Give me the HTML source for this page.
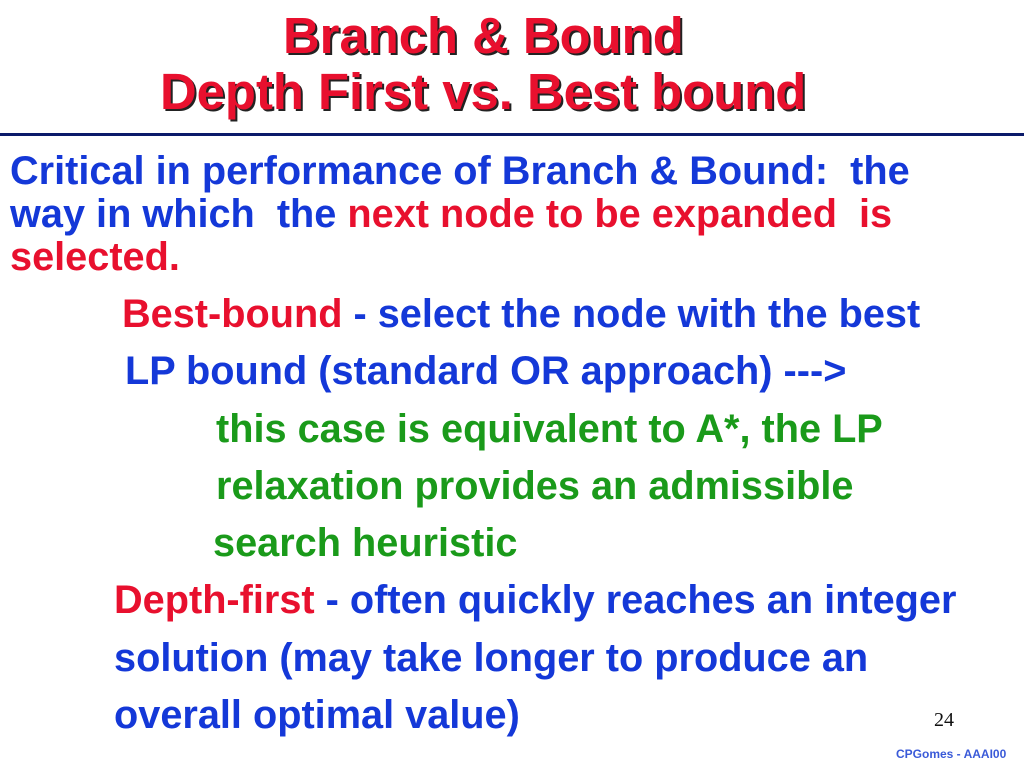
<!DOCTYPE html>
<html><head><meta charset="utf-8"><style>
html,body{margin:0;padding:0;background:#fff;}
body{width:1024px;height:768px;position:relative;overflow:hidden;font-family:"Liberation Sans",Arial,sans-serif;font-weight:bold;}
.t{position:absolute;font-size:50.8px;line-height:1;color:#e8102e;text-shadow:2px 2px 0 #222;white-space:nowrap;}
.l{position:absolute;font-size:39.7px;line-height:1;white-space:nowrap;color:#1438d8;}
.r{color:#e8102e}.g{color:#1a9a1a}
</style></head><body>
<div class="t" style="left:283px;top:11px">Branch &amp; Bound</div>
<div class="t" style="left:160px;top:67px">Depth First vs. Best bound</div>
<div style="position:absolute;left:0;top:133px;width:1024px;height:3px;background:#0a1a6a"></div>
<div class="l" style="left:10px;top:152px">Critical in performance of Branch &amp; Bound:&nbsp; the</div>
<div class="l" style="left:10px;top:195px">way in which&nbsp; the <span class="r">next node to be expanded</span>&nbsp; <span class="r">is</span></div>
<div class="l r" style="left:10px;top:238px">selected.</div>
<div class="l" style="left:122px;top:295px"><span class="r">Best-bound</span> - select the node with the best</div>
<div class="l" style="left:125px;top:352px">LP bound (standard OR approach) ---&gt;</div>
<div class="l g" style="left:216px;top:410px">this case is equivalent to A*, the LP</div>
<div class="l g" style="left:216px;top:467px">relaxation provides an admissible</div>
<div class="l g" style="left:213px;top:524px">search heuristic</div>
<div class="l" style="left:114px;top:581px"><span class="r">Depth-first</span> - often quickly reaches an integer</div>
<div class="l" style="left:114px;top:639px">solution (may take longer to produce an</div>
<div class="l" style="left:114px;top:696px">overall optimal value)</div>
<div style="position:absolute;left:934px;top:709px;font-family:'Liberation Serif',serif;font-weight:normal;font-size:20px;color:#111">24</div>
<div style="position:absolute;left:896px;top:747px;font-size:12px;color:#3a5ad8">CPGomes - AAAI00</div>
</body></html>
